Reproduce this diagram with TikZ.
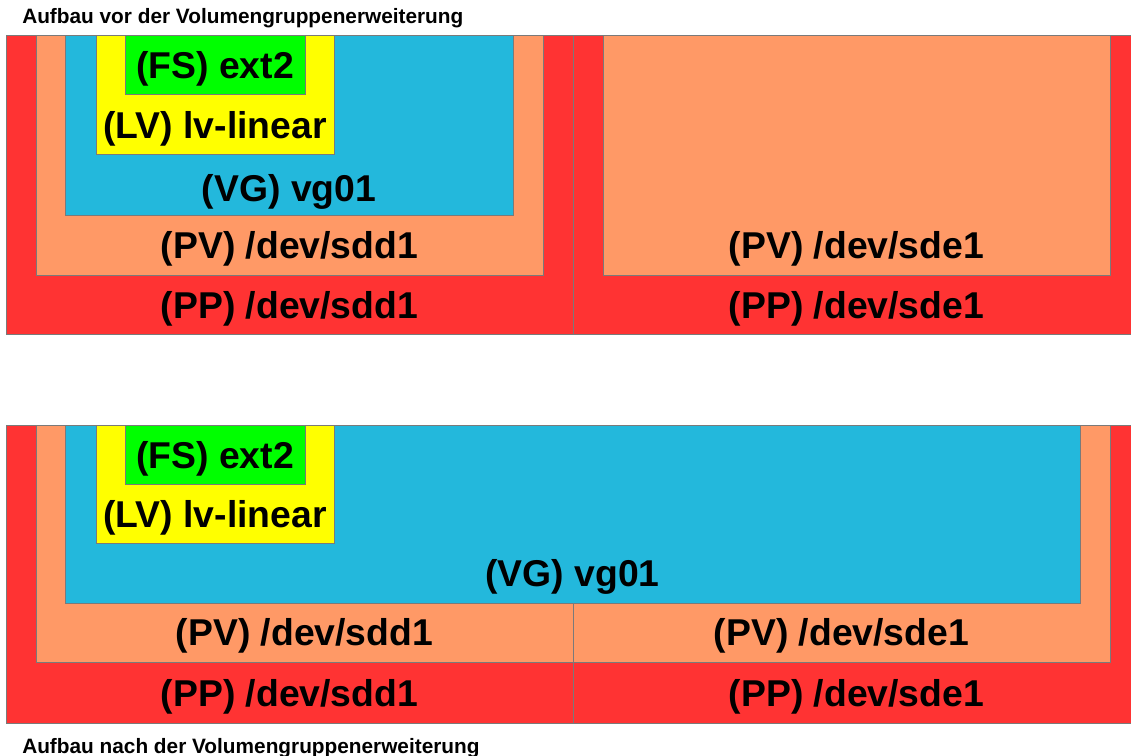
\documentclass[tikz,border=0pt]{standalone}
\usepackage{fontspec}
\setmainfont{Liberation Sans}
\definecolor{ppred}{HTML}{FF3333}
\definecolor{pvorange}{HTML}{FF9966}
\definecolor{vgblue}{HTML}{23B8DC}
\definecolor{lvyellow}{HTML}{FFFF00}
\definecolor{fsgreen}{HTML}{00FF00}
\definecolor{edge}{HTML}{7A7A7A}
\tikzset{
  area/.style={draw=edge, line width=0.75pt},
  pp/.style={area, fill=ppred},
  pv/.style={area, fill=pvorange},
  vg/.style={area, fill=vgblue},
  lv/.style={area, fill=lvyellow},
  fs/.style={area, fill=fsgreen},
  lbl/.style={font=\fontsize{28}{30}\selectfont\bfseries, anchor=base, inner sep=0pt},
  caption/.style={font=\fontsize{15.6}{18}\selectfont\bfseries, anchor=base west, inner sep=0pt}
}
\begin{document}
\begin{tikzpicture}[x=0.75pt, y=-0.75pt]
\useasboundingbox (0,0) rectangle (1131,756);

% ---- volume group before the extension ----
\node[caption] (t1) at (22,24) {Aufbau vor der Volumengruppenerweiterung};
\path[pp] (6,36) rectangle (573,334);
\path[pp] (573,36) rectangle (1140,334);
\path[pv] (36,36) rectangle (543,275);
\path[pv] (603,36) rectangle (1110,275);
\path[vg] (65,36) rectangle (513,215);
\path[lv] (96,36) rectangle (334,155);
\path[fs] (125,36) rectangle (305,95);

\node[lbl] (fs1)  at (215,79)     {(FS) ext2};
\node[lbl] (lv1)  at (215,138.5)  {(LV) lv-linear};
\node[lbl] (vg1)  at (289,201.5)  {(VG) vg01};
\node[lbl] (pvd1) at (289.5,258.5) {(PV) /dev/sdd1};
\node[lbl] (ppd1) at (289.5,318)  {(PP) /dev/sdd1};
\node[lbl] (pve1) at (856.5,258.5) {(PV) /dev/sde1};
\node[lbl] (ppe1) at (856.5,318)  {(PP) /dev/sde1};

% ---- volume group after the extension ----
\path[pp] (6,425) rectangle (573,723);
\path[pp] (573,425) rectangle (1140,723);
\path[pv] (36,425) rectangle (573,662);
\path[pv] (573,425) rectangle (1110,662);
\path[vg] (65,425) rectangle (1080,603);
\path[lv] (96,425) rectangle (334,543);
\path[fs] (125,425) rectangle (305,484);

\node[lbl] (fs2)  at (215,468)     {(FS) ext2};
\node[lbl] (lv2)  at (215,527.5)   {(LV) lv-linear};
\node[lbl] (vg2)  at (572.5,586.5) {(VG) vg01};
\node[lbl] (pvd2) at (304.5,645.5) {(PV) /dev/sdd1};
\node[lbl] (pve2) at (841.5,645.5) {(PV) /dev/sde1};
\node[lbl] (ppd2) at (289.5,706)   {(PP) /dev/sdd1};
\node[lbl] (ppe2) at (856.5,706)   {(PP) /dev/sde1};
\node[caption] (t2) at (22,753) {Aufbau nach der Volumengruppenerweiterung};
\end{tikzpicture}
\end{document}
